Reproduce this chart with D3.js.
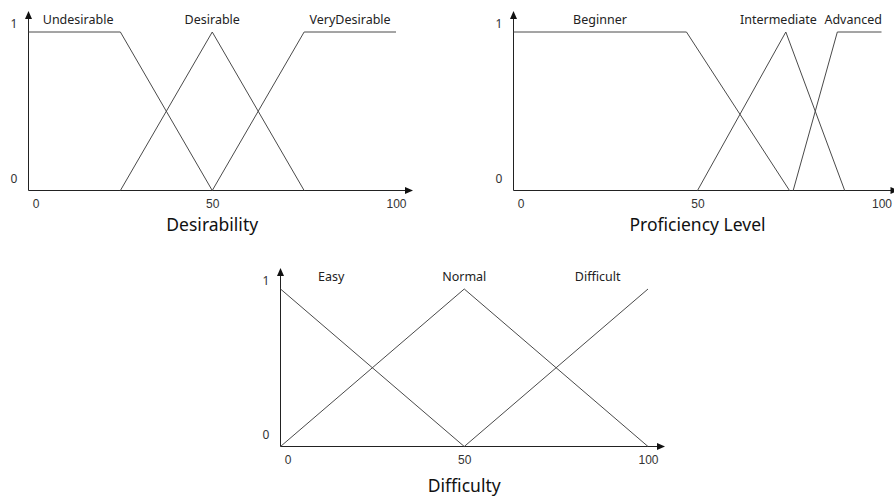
<!DOCTYPE html>
<html>
<head>
<meta charset="utf-8">
<script src="https://cdn.jsdelivr.net/npm/d3@7"></script>
<style>
  html, body { margin: 0; padding: 0; background: #fff; }
  svg { display: block; font-family: "Malgun Gothic", "Noto Sans", "DejaVu Sans", sans-serif; }
</style>
</head>
<body>
<svg id="chart" width="894" height="497"></svg>
<script>
// membership functions, [input, degree] pairs
var desirabilitySets = ["Undesirable", "Desirable", "VeryDesirable"];
var desirabilityValues = [
  [[0, 1], [25, 1], [50, 0]],
  [[25, 0], [50, 1], [75, 0]],
  [[50, 0], [75, 1], [100, 1]]
];
var desirabilityLabelAt = [13.5, 50, 87.5];

var proficiencySets = ["Beginner", "Intermediate", "Advanced"];
var proficiencyValues = [
  [[0, 1], [47, 1], [75, 0]],
  [[50, 0], [74, 1], [90, 0]],
  [[76, 0], [88, 1], [100, 1]]
];
var proficiencyLabelAt = [23.5, 72, 92.3];

var difficultySets = ["Easy", "Normal", "Difficult"];
var difficultyValues = [
  [[0, 1], [50, 0]],
  [[0, 0], [50, 1], [100, 0]],
  [[50, 0], [100, 1]]
];
var difficultyLabelAt = [13.8, 50, 86.3];

var xTicks = [0, 50, 100];
var yTicks = [0, 1];

// where each panel sits on the page
var panels = [
  { title: "Desirability", sets: desirabilitySets, values: desirabilityValues, labelAt: desirabilityLabelAt,
    left: 28.5, right: 396, bottom: 190.5, top: 32, titleY: 230.7 },
  { title: "Proficiency Level", sets: proficiencySets, values: proficiencyValues, labelAt: proficiencyLabelAt,
    left: 513.5, right: 881.5, bottom: 190.5, top: 32, titleY: 230.7 },
  { title: "Difficulty", sets: difficultySets, values: difficultyValues, labelAt: difficultyLabelAt,
    left: 280.5, right: 648, bottom: 446.5, top: 289, titleY: 491.5 }
];

var svg = d3.select("#chart");

panels.forEach(function (p) {
  var x = d3.scaleLinear().domain([0, 100]).range([p.left, p.right]);
  var y = d3.scaleLinear().domain([0, 1]).range([p.bottom, p.top]);
  var g = svg.append("g");

  var xEnd = x(100) + 17, yEnd = y(1) - 21;

  // axes with arrow heads
  g.append("line")
    .attr("x1", x(0)).attr("x2", xEnd - 6)
    .attr("y1", y(0)).attr("y2", y(0))
    .attr("stroke", "#222").attr("stroke-width", 1);
  g.append("path")
    .attr("d", "M" + xEnd + "," + y(0) + "L" + (xEnd - 8) + "," + (y(0) - 3.5) + "L" + (xEnd - 8) + "," + (y(0) + 3.5) + "Z")
    .attr("fill", "#111");
  g.append("line")
    .attr("x1", x(0)).attr("x2", x(0))
    .attr("y1", y(0)).attr("y2", yEnd + 6)
    .attr("stroke", "#222").attr("stroke-width", 1);
  g.append("path")
    .attr("d", "M" + x(0) + "," + yEnd + "L" + (x(0) - 3.5) + "," + (yEnd + 8) + "L" + (x(0) + 3.5) + "," + (yEnd + 8) + "Z")
    .attr("fill", "#111");

  // x tick labels
  var ax = g.append("g")
    .attr("transform", "translate(0," + y(0) + ")")
    .call(d3.axisBottom(x).tickValues(xTicks).tickSize(0).tickPadding(8.5));
  ax.select(".domain").remove();
  ax.selectAll("text")
    .attr("dx", function (d) { return d === 0 ? 7 : 0; })
    .attr("fill", "#333")
    .style("font-size", "12px")
    .style("font-family", null);

  // y labels
  g.selectAll(".ylab")
    .data(yTicks)
    .enter().append("text")
    .attr("class", "ylab")
    .attr("x", x(0) - 14.5)
    .attr("y", function (d) { return y(d) - (d ? 3.7 : 8); })
    .attr("text-anchor", "middle")
    .attr("fill", "#333")
    .style("font-size", "12px")
    .text(function (d) { return d; });

  // membership lines
  var line = d3.line()
    .x(function (d) { return x(d[0]); })
    .y(function (d) { return y(d[1]); });

  g.selectAll(".mf")
    .data(p.values)
    .enter().append("path")
    .attr("class", "mf")
    .attr("d", line)
    .attr("fill", "none")
    .attr("stroke", "#4a4a4a")
    .attr("stroke-width", 1);

  // set names
  g.selectAll(".setname")
    .data(p.sets)
    .enter().append("text")
    .attr("class", "setname")
    .attr("x", function (d, i) { return x(p.labelAt[i]); })
    .attr("y", y(1) - 8)
    .attr("text-anchor", "middle")
    .attr("fill", "#222")
    .style("font-size", "12.5px")
    .text(function (d) { return d; });

  // axis title
  g.append("text")
    .attr("x", x(50))
    .attr("y", p.titleY)
    .attr("text-anchor", "middle")
    .attr("fill", "#111")
    .style("font-size", "17.5px")
    .text(p.title);
});
</script>
</body>
</html>
